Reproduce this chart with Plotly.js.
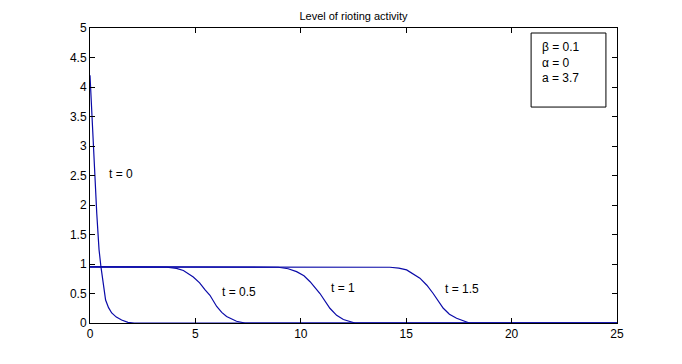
<!DOCTYPE html>
<html>
<head>
<meta charset="utf-8">
<script src="https://cdn.plot.ly/plotly-3.0.1.min.js"></script>
<style>
  html, body { margin: 0; padding: 0; background: #fff; }
  #chart { width: 682px; height: 364px; }
</style>
</head>
<body>
<div id="chart"></div>
<script>
// profiles
const x_t0 = [0, 0.08, 0.16, 0.24, 0.32, 0.39, 0.43, 0.52, 0.63, 0.74, 0.88, 1.03, 1.25, 1.5, 1.8, 2.1, 25];
const y_t0 = [4.2, 3.6, 2.88, 2.31, 1.86, 1.46, 1.24, 0.95, 0.67, 0.39, 0.26, 0.17, 0.1, 0.05, 0.01, 0, 0];

const x_t05 = [0, 3.64, 4.1, 4.43, 4.90, 5.2, 5.46, 5.69, 6.01, 6.25, 6.48, 6.95, 7.35, 25];
const y_t05 = [0.95, 0.945, 0.925, 0.89, 0.78, 0.68, 0.56, 0.47, 0.28, 0.18, 0.11, 0.03, 0, 0];

const x_t1 = [0, 8.93, 9.4, 9.80, 10.15, 10.44, 10.91, 11.38, 11.7, 12.02, 12.57, 25];
const y_t1 = [0.95, 0.945, 0.92, 0.87, 0.8, 0.70, 0.50, 0.25, 0.13, 0.06, 0, 0];

const x_t15 = [0, 14.23, 14.65, 15.02, 15.65, 15.98, 16.28, 16.76, 17.05, 17.39, 18.0, 25];
const y_t15 = [0.95, 0.945, 0.93, 0.90, 0.76, 0.64, 0.50, 0.25, 0.15, 0.08, 0, 0];

const curveLabels = ['t = 0', 't = 0.5', 't = 1', 't = 1.5'];
const labelX = [1.47, 7.07, 12.0, 17.65];
const labelY = [2.53, 0.53, 0.6, 0.58];

const paramText = ['β = 0.1', 'α = 0', 'a = 3.7'];

const lineColor = '#0a0aa8';
const FONT = 'Liberation Sans, Arial, sans-serif';

const series = [[x_t0, y_t0], [x_t05, y_t05], [x_t1, y_t1], [x_t15, y_t15]];
const traces = series.map(s => ({
    x: s[0], y: s[1], type: 'scatter', mode: 'lines',
    line: { color: lineColor, width: 1.2 },
    hoverinfo: 'skip'
}));

const annotations = curveLabels.map((t, i) => ({
    x: labelX[i], y: labelY[i], xref: 'x', yref: 'y', text: t,
    showarrow: false, font: { family: FONT, size: 12, color: '#000' }
}));
annotations.push({
    x: 0.854, y: 0.966, xref: 'paper', yref: 'paper', xanchor: 'left', yanchor: 'top',
    text: paramText.join('<br>'), align: 'left', showarrow: false,
    font: { family: FONT, size: 12, color: '#000' }
});

const axisStyle = {
    showgrid: false, zeroline: false,
    showline: true, mirror: 'ticks', linecolor: '#000', linewidth: 1,
    ticks: 'inside', ticklen: 5, tickcolor: '#000',
    tickfont: { family: FONT, size: 12, color: '#000' }
};

const layout = {
    width: 682, height: 364,
    paper_bgcolor: '#fff', plot_bgcolor: '#fff',
    margin: { l: 90, r: 65, t: 28, b: 41 },
    showlegend: false,
    title: { text: 'Level of rioting activity', font: { family: FONT, size: 11, color: '#000' },
             x: 0.5, xref: 'paper', y: 1, yref: 'paper', yanchor: 'bottom', pad: { b: 8 } },
    xaxis: Object.assign({ range: [0, 25], tickvals: [0, 5, 10, 15, 20, 25] }, axisStyle),
    yaxis: Object.assign({ range: [0, 5], dtick: 0.5, tick0: 0 }, axisStyle),
    annotations: annotations,
    shapes: [{
        type: 'rect', xref: 'paper', yref: 'paper',
        x0: 0.837, x1: 0.979, y0: 0.732, y1: 0.983,
        line: { color: '#000', width: 1 }, fillcolor: 'rgba(0,0,0,0)'
    }]
};

Plotly.newPlot('chart', traces, layout, { displayModeBar: false, staticPlot: true });
</script>
</body>
</html>
